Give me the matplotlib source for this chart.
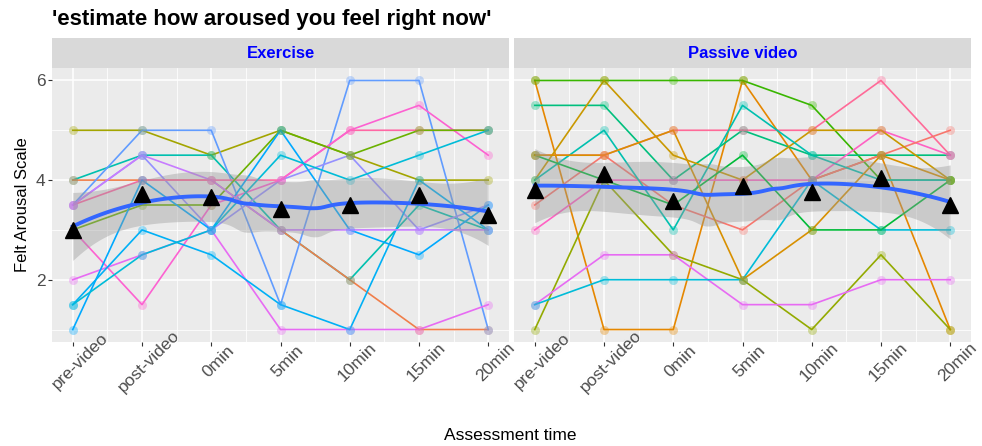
import numpy as np
import matplotlib
matplotlib.use("Agg")
import matplotlib.pyplot as plt
import matplotlib.transforms as mtransforms

plt.rcParams['font.family'] = ['Liberation Sans', 'DejaVu Sans']

times = ['pre-video', 'post-video', '0min', '5min', '10min', '15min', '20min']

# Exercise: one list per participant, values at each assessment time
ex_colors = ['#A3A500', '#00C0AF', '#F07E4A', '#619CFF', '#9590FF', '#FF67A4', '#FD61D1',
             '#6BB100', '#E76BF3', '#00A9FF', '#00B0F6', '#00BCD8', '#C77CFF']
ex_values = [
    [5, 5, 4.5, 5, 4.5, 4, 4],
    [4, 4.5, 4.5, 3, 2, 3.5, 3],
    [4, 4, 4, 3, 2, 1, 1],
    [3.5, 5, 5, 1.5, 6, 6, 1],
    [3.5, 4.5, 3, 4, 4.5, 3, 3.5],
    [3.5, 4, 4, 4, 5, 5, 5],
    [3, 1.5, 3.5, 4, 5, 5.5, 4.5],
    [3, 3.5, 3.5, 5, 4.5, 5, 5],
    [2, 2.5, 3, 1, 1, 1, 1.5],
    [1, 4, 3, 5, 3, 2.5, 3.5],
    [1.5, 3, 2.5, 1.5, 1, 4, 3],
    [1.5, 2.5, 3, 4.5, 4, 4.5, 5],
    [3.5, 4.5, 4, 3, 3, 3, 3],
]

# Passive video
pv_colors = ['#E58700', '#39B600', '#00BF7D', '#FF6A98', '#FF61C3', '#F8766D', '#C99800',
             '#93AA00', '#E76BF3', '#00BCD8', '#00C0AF', '#00BA38', '#D89000']
pv_values = [
    [6, 1, 1, 6, 4, 4.5, 1],
    [6, 6, 6, 6, 5.5, 4, 4],
    [5.5, 5.5, 4, 5, 4.5, 4.5, 4.5],
    [4.5, 4.5, 5, 5, 5, 6, 4.5],
    [3, 4, 4, 4, 4, 5, 4.5],
    [3.5, 4.5, 3.5, 3, 4, 4.5, 5],
    [4, 6, 4.5, 4, 5, 5, 4],
    [1, 4, 2.5, 2, 1, 2.5, 1],
    [1.5, 2.5, 2.5, 1.5, 1.5, 2, 2],
    [1.5, 2, 2, 2, 4, 3, 3],
    [4, 5, 3, 5.5, 4.5, 4, 4],
    [4.5, 4, 3.5, 4.5, 3, 3, 4],
    [4.5, 4.5, 5, 2, 3, 4.5, 4],
]

panels = [('Exercise', ex_values, ex_colors), ('Passive video', pv_values, pv_colors)]


def loess(x, y, xs, span=0.75):
    # local quadratic fit with tricube weights (like R's loess default)
    n = len(x)
    q = int(np.floor(n * span))

    def row(x0):
        d = np.abs(x - x0)
        h = np.sort(d)[q - 1] * 1.0001
        w = np.clip(1 - (d / h) ** 3, 0, 1) ** 3
        X = np.column_stack([np.ones(n), x - x0, (x - x0) ** 2])
        XtW = X.T * w
        return np.linalg.solve(XtW @ X, XtW)[0]

    L = np.array([row(v) for v in x])
    M = np.eye(n) - L
    one_delta = np.trace(M.T @ M)
    sigma = np.sqrt(np.sum((M @ y) ** 2) / one_delta)
    rows = np.array([row(v) for v in xs])
    fit = rows @ y
    se = sigma * np.sqrt(np.sum(rows ** 2, axis=1))
    return fit, se


fig = plt.figure(figsize=(9.82, 4.46), dpi=100)
W, H = 982, 446
panel_w = 457
lefts = [52, 514]
top, bottom = 68, 342
xpos = np.arange(1, len(times) + 1)

for k, (name, values, colors) in enumerate(panels):
    ax = fig.add_axes([lefts[k] / W, 1 - bottom / H, panel_w / W, (bottom - top) / H])
    ax.set_facecolor('#EBEBEB')
    for s in ax.spines.values():
        s.set_visible(False)
    ax.set_xlim(0.7, 7.3)
    ax.set_ylim(0.75, 6.25)
    ax.set_xticks(xpos)
    ax.set_yticks([2, 4, 6])
    ax.set_xticks(np.arange(1.5, 7, 1), minor=True)
    ax.set_yticks([1, 3, 5], minor=True)
    ax.grid(True, which='major', color='white', linewidth=1.1)
    ax.grid(True, which='minor', color='white', linewidth=0.55)
    ax.set_axisbelow(True)
    ax.tick_params(which='minor', length=0)
    ax.tick_params(axis='both', which='major', length=2.75, width=0.8, color='#333333',
                   labelcolor='#4D4D4D', labelsize=12.5, pad=2)
    ax.set_xticklabels(times, rotation=45, ha='center', va='center', rotation_mode='anchor')
    offset = mtransforms.ScaledTranslation(7 / 100, -13 / 100, fig.dpi_scale_trans)
    for lab in ax.get_xticklabels():
        lab.set_transform(lab.get_transform() + offset)
    if k == 0:
        ax.set_ylabel('Felt Arousal Scale', fontsize=12, labelpad=4)
    else:
        ax.tick_params(axis='y', left=False, labelleft=False)

    for vals, col in zip(values, colors):
        ax.plot(xpos, vals, color=col, linewidth=1.2, zorder=2)
        ax.plot(xpos, vals, 'o', color=col, markersize=6.5, alpha=0.35,
                markeredgewidth=0, zorder=3)

    arr = np.array(values, dtype=float)
    xall = np.tile(xpos, arr.shape[0]).astype(float)
    yall = arr.ravel()
    xs = np.linspace(1, 7, 120)
    fit, se = loess(xall, yall, xs)
    ax.fill_between(xs, fit - 1.98 * se, fit + 1.98 * se, color='#999999', alpha=0.4,
                    linewidth=0, zorder=4)
    ax.plot(xs, fit, color='#3366FF', linewidth=2.8, zorder=5)
    ax.plot(xpos, arr.mean(axis=0), '^', color='black', markersize=11, zorder=6)

    sax = fig.add_axes([lefts[k] / W, 1 - top / H, panel_w / W, 30 / H])
    sax.set_facecolor('#D9D9D9')
    sax.set_xticks([])
    sax.set_yticks([])
    for s in sax.spines.values():
        s.set_visible(False)
    sax.text(0.5, 0.5, name, transform=sax.transAxes, ha='center', va='center',
             color='blue', fontsize=12, fontweight='bold')

fig.text(52 / W, 1 - 19 / H, "'estimate how aroused you feel right now'", fontsize=16,
         fontweight='bold', ha='left', va='center')
fig.text(510 / W, 1 - 436 / H, 'Assessment time', fontsize=12.5, ha='center', va='center')

fig.savefig('out.png', dpi=100)
